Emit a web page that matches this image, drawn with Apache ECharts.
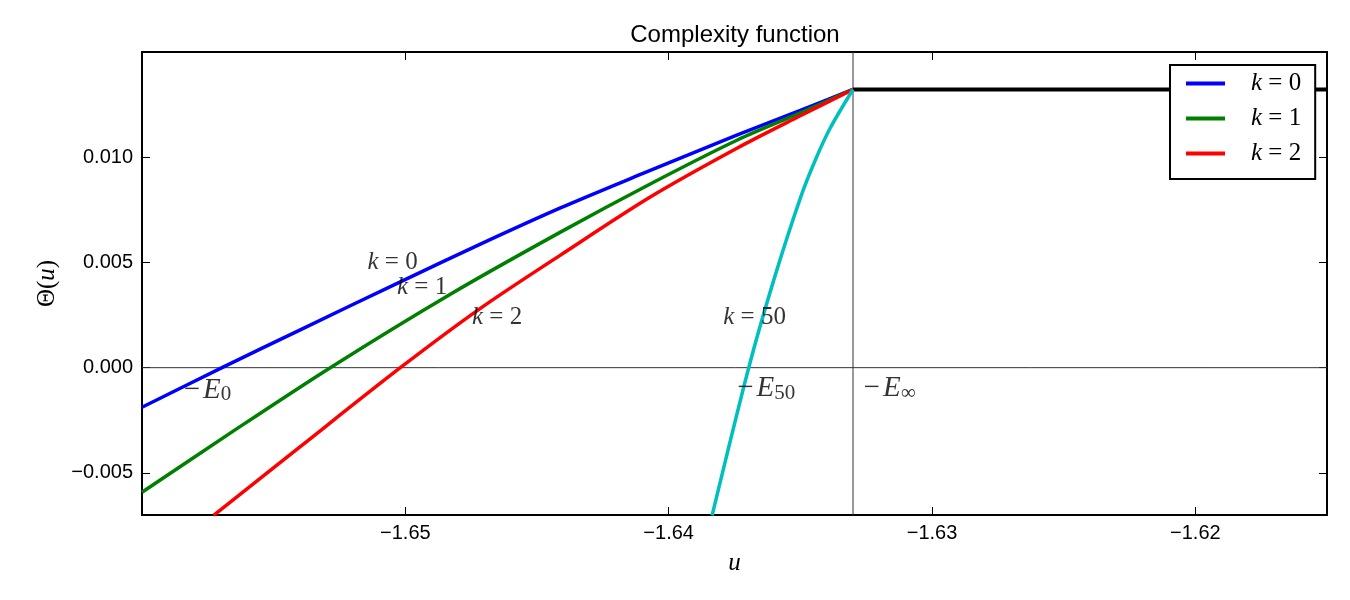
<!DOCTYPE html>
<html>
<head>
<meta charset="utf-8">
<title>Complexity function</title>
<script src="https://cdn.jsdelivr.net/npm/echarts@6.0.0/dist/echarts.min.js"></script>
<style>
  html, body { margin: 0; padding: 0; background: #fff; }
  #chart { width: 1350px; height: 600px; }
</style>
</head>
<body>
<div id="chart"></div>
<script>
// curves: u on x, Theta(u) on y
var uK0 = [-1.6600, -1.65696, -1.65399, -1.65019, -1.64715, -1.64411, -1.64107, -1.63739, -1.63500, -1.6330];
var thetaK0 = [-0.00188, 0, 0.00180, 0.00408, 0.00587, 0.00759, 0.00918, 0.01106, 0.01223, 0.01322];

var uK1 = [-1.6600, -1.65665, -1.65285, -1.64829, -1.64411, -1.64070, -1.63739, -1.63500, -1.6330];
var thetaK1 = [-0.00592, -0.00311, 0, 0.00349, 0.00644, 0.00873, 0.01082, 0.01211, 0.01322];

var uK2 = [-1.65728, -1.65399, -1.65019, -1.64715, -1.64411, -1.64070, -1.63739, -1.63500, -1.6330];
var thetaK2 = [-0.00702, -0.00375, 0, 0.00282, 0.00535, 0.00811, 0.01044, 0.01197, 0.01322];

var uK50 = [-1.63835, -1.63696, -1.63601, -1.63500, -1.63443, -1.63386, -1.6330];
var thetaK50 = [-0.00702, 0, 0.00416, 0.00806, 0.00987, 0.01140, 0.01322];

// flat part right of -E_inf, and the two thin guide lines
var uLimit = [-1.6330, -1.615];
var thetaLimit = [0.01322, 0.01322];
var uZero = [-1.66, -1.615];
var thetaZero = [0, 0];
var uInf = [-1.6330, -1.6330];
var thetaInf = [-0.007, 0.015];

var xTicks = [-1.65, -1.64, -1.63, -1.62];
var xTickLabels = ['\u22121.65', '\u22121.64', '\u22121.63', '\u22121.62'];
var yTicks = [-0.005, 0, 0.005, 0.010];
var yTickLabels = ['\u22120.005', '0.000', '0.005', '0.010'];

var legendNames = ['k=0', 'k=1', 'k=2'];

// text notes on the plot: left edge / middle of the text, in data units
var noteU = [-1.65144, -1.65032, -1.64747, -1.63793, -1.65842, -1.63740, -1.63260];
var noteTheta = [0.00499, 0.00380, 0.00241, 0.00241, -0.00107, -0.00099, -0.00099];
var noteText = [
  '{i|k}{r| = 0}',
  '{i|k}{r| = 1}',
  '{i|k}{r| = 2}',
  '{i|k}{r| = 50}',
  '{er|\u2212}{ei|E}{es|0}',
  '{er|\u2212}{ei|E}{es|50}',
  '{er|\u2212}{ei|E}{es|\u221e}'
];

function zip(a, b) {
  var out = [];
  for (var i = 0; i < a.length; i++) out.push([a[i], b[i]]);
  return out;
}

function tickLabel(values, labels) {
  return function (v) {
    for (var i = 0; i < values.length; i++) {
      if (Math.abs(values[i] - v) < 1e-9) return labels[i];
    }
    return '';
  };
}

var serif = 'Liberation Serif';
var mathRich = {
  i: { fontFamily: serif, fontStyle: 'italic', fontSize: 25, lineHeight: 26, color: '#000' },
  r: { fontFamily: serif, fontSize: 25, lineHeight: 26, color: '#000' },
  er: { fontFamily: serif, fontSize: 29, lineHeight: 30, color: '#000' },
  ei: { fontFamily: serif, fontStyle: 'italic', fontSize: 29, lineHeight: 30, color: '#000', padding: [0, 0, 0, 3] },
  es: { fontFamily: serif, fontSize: 21, lineHeight: 18, verticalAlign: 'bottom', color: '#000' }
};

function curve(name, u, t, color, width, z) {
  return {
    name: name,
    type: 'line',
    data: zip(u, t),
    symbol: 'none',
    showSymbol: false,
    smooth: 0.3,
    clip: true,
    silent: true,
    z: z,
    lineStyle: { color: color, width: width },
    itemStyle: { color: color }
  };
}

function guide(name, u, t) {
  return {
    name: name,
    type: 'line',
    data: zip(u, t),
    symbol: 'none',
    silent: true,
    z: 1,
    lineStyle: { color: '#333', width: 1 },
    itemStyle: { color: '#333' }
  };
}

function mirrorX(pos, showLabel) {
  return {
    type: 'value', position: pos, min: -1.66, max: -1.615,
    splitLine: { show: false },
    axisLine: { onZero: false, lineStyle: { color: '#000', width: 2 } },
    axisTick: { inside: true, length: 8, customValues: xTicks, lineStyle: { color: '#000', width: 1 } },
    axisLabel: {
      show: showLabel, customValues: xTicks, margin: 8,
      formatter: tickLabel(xTicks, xTickLabels),
      fontFamily: 'Liberation Sans', fontSize: 20, color: '#000'
    }
  };
}

function mirrorY(pos, showLabel) {
  return {
    type: 'value', position: pos, min: -0.007, max: 0.015,
    splitLine: { show: false },
    axisLine: { onZero: false, lineStyle: { color: '#000', width: 2 } },
    axisTick: { inside: true, length: 8, customValues: yTicks, lineStyle: { color: '#000', width: 1 } },
    axisLabel: {
      show: showLabel, customValues: yTicks, margin: 9,
      formatter: tickLabel(yTicks, yTickLabels),
      fontFamily: 'Liberation Sans', fontSize: 20, color: '#000'
    }
  };
}

var chart = echarts.init(document.getElementById('chart'), null, { renderer: 'canvas' });

var xBottom = mirrorX('bottom', true);
xBottom.name = 'u';
xBottom.nameLocation = 'middle';
xBottom.nameGap = 36;
xBottom.nameTextStyle = { fontFamily: serif, fontStyle: 'italic', fontSize: 25, color: '#000' };

var yLeft = mirrorY('left', true);
yLeft.name = '{r|\u0398(}{i|u}{r|)}';
yLeft.nameLocation = 'middle';
yLeft.nameRotate = 90;
yLeft.nameGap = 82;
yLeft.nameTextStyle = { rich: mathRich };

var option = {
  animation: false,
  backgroundColor: '#fff',
  title: {
    text: 'Complexity function',
    left: 735, top: 23, textAlign: 'center', padding: 0,
    textStyle: { fontFamily: 'Liberation Sans', fontSize: 24, fontWeight: 'normal', color: '#000' }
  },
  grid: { left: 142, top: 52, width: 1185, height: 463, containLabel: false },
  legend: {
    data: legendNames,
    orient: 'vertical',
    left: 1170, top: 65,
    padding: [6, 14, 13, 16],
    itemGap: 10,
    itemWidth: 39,
    itemHeight: 4,
    icon: 'rect',
    selectedMode: false,
    backgroundColor: '#fff',
    borderColor: '#000',
    borderWidth: 2,
    borderRadius: 0,
    formatter: function (n) {
      return '{i|k}{r| = ' + n.split('=')[1] + '}';
    },
    textStyle: {
      rich: {
        i: { fontFamily: serif, fontStyle: 'italic', fontSize: 25, lineHeight: 26, color: '#000', padding: [0, 0, 0, 21] },
        r: { fontFamily: serif, fontSize: 25, lineHeight: 26, color: '#000' }
      }
    }
  },
  xAxis: [xBottom, mirrorX('top', false)],
  yAxis: [yLeft, mirrorY('right', false)],
  series: [
    guide('zero', uZero, thetaZero),
    guide('einf', uInf, thetaInf),
    {
      name: 'limit',
      type: 'line',
      data: zip(uLimit, thetaLimit),
      symbol: 'none',
      silent: true,
      z: 2,
      lineStyle: { color: '#000', width: 4 },
      itemStyle: { color: '#000' }
    },
    curve('k=0', uK0, thetaK0, '#0000ff', 3.5, 3),
    curve('k=1', uK1, thetaK1, '#008000', 3.5, 3),
    curve('k=2', uK2, thetaK2, '#ff0000', 3.5, 3),
    curve('k=50', uK50, thetaK50, '#00bfbf', 3.5, 3),
    {
      name: 'notes',
      type: 'scatter',
      data: noteU.map(function (u, i) { return [u, noteTheta[i], noteText[i]]; }),
      symbolSize: 0.1,
      silent: true,
      z: 4,
      itemStyle: { color: 'rgba(0,0,0,0)' },
      label: {
        show: true,
        position: 'right',
        distance: 0,
        color: '#000',
        formatter: function (p) { return p.data[2]; },
        rich: mathRich
      }
    }
  ]
};

chart.setOption(option);
</script>
</body>
</html>
